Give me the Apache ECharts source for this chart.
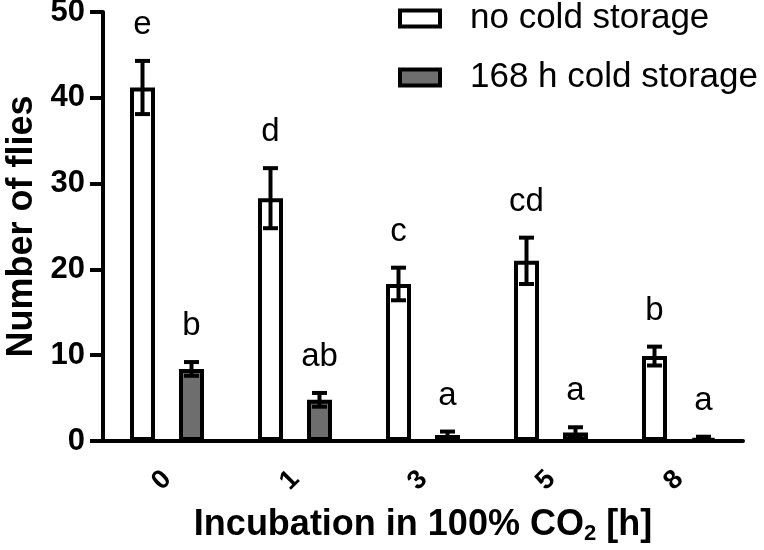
<!DOCTYPE html>
<html>
<head>
<meta charset="utf-8">
<script src="https://cdn.jsdelivr.net/npm/echarts@6/dist/echarts.min.js"></script>
<style>
html,body{margin:0;padding:0;background:#fff;}
#c{width:764px;height:550px;}
</style>
</head>
<body>
<div id="c"></div>
<script>
// ---- data ----
var categories = ['0', '1', '3', '5', '8'];
var seriesNames = ['no cold storage', '168 h cold storage'];
var noColdMean = [41.2, 28.3, 18.3, 21.0, 9.9];
var noColdErr = [3.1, 3.5, 1.9, 2.7, 1.1];
var coldMean = [8.4, 4.8, 0.7, 1.0, 0.3];
var coldErr = [0.8, 0.8, 0.4, 0.6, 0.2];
var noColdLetters = ['e', 'd', 'c', 'cd', 'b'];
var coldLetters = ['b', 'ab', 'a', 'a', 'a'];
var yTicks = [0, 10, 20, 30, 40, 50];

// ---- style ----
var FONT = "'Liberation Sans', Arial, Helvetica, sans-serif";
var BAR_W = 25;
var BAR_GAP = 0.96;
var OFFSET = (BAR_W + BAR_W * BAR_GAP) / 2;
var GRAY = '#6e6e6e';

function errorSeries(name, means, errs, letters, sign) {
  var data = means.map(function (m, i) { return [i, m, errs[i]]; });
  return {
    type: 'custom',
    name: name + ' err',
    z: 10,
    silent: true,
    data: data,
    renderItem: function (params, api) {
      var i = api.value(0), m = api.value(1), e = api.value(2);
      var top = api.coord([i, m + e]);
      var bot = api.coord([i, m - e]);
      var x = top[0] + sign * OFFSET;
      var cw = 7.5;
      var st = { stroke: '#000', lineWidth: 4, fill: null };
      return {
        type: 'group',
        children: [
          { type: 'line', shape: { x1: x, y1: top[1], x2: x, y2: bot[1] }, style: st },
          { type: 'line', shape: { x1: x - cw, y1: top[1], x2: x + cw, y2: top[1] }, style: st },
          { type: 'line', shape: { x1: x - cw, y1: bot[1], x2: x + cw, y2: bot[1] }, style: st },
          { type: 'text', x: x, y: top[1] - 36,
            style: { text: letters[params.dataIndex], fill: '#000', font: '33px ' + FONT,
                     textAlign: 'center', textVerticalAlign: 'middle', align: 'center', verticalAlign: 'middle' } }
        ]
      };
    }
  };
}

var chart = echarts.init(document.getElementById('c'), null, { renderer: 'canvas' });
chart.setOption({
  animation: false,
  backgroundColor: '#fff',
  textStyle: { fontFamily: FONT },
  grid: { left: 103, right: 21, top: 12, bottom: 109, containLabel: false, outerBoundsMode: 'none' },
  legend: {
    orient: 'vertical',
    left: 398,
    top: 1,
    padding: 0,
    icon: 'rect',
    itemWidth: 40,
    itemHeight: 16,
    itemGap: 24,
    data: seriesNames,
    selectedMode: false,
    itemStyle: { borderWidth: 4, borderColor: '#000' },
    textStyle: { fontSize: 35, color: '#000', fontFamily: FONT, lineHeight: 34, padding: [0, 0, 0, 25] }
  },
  xAxis: {
    type: 'category',
    data: categories,
    name: 'Incubation in 100% CO{sub|2} [h]',
    nameLocation: 'middle',
    nameGap: 64,
    nameTextStyle: {
      fontSize: 36, fontWeight: 'bold', color: '#000', fontFamily: FONT, lineHeight: 40,
      rich: { sub: { fontSize: 22, fontWeight: 'bold', color: '#000', fontFamily: FONT, lineHeight: 22, padding: [18, 0, 0, 0] } }
    },
    axisLine: { lineStyle: { color: '#000', width: 4 } },
    axisTick: { alignWithLabel: true, length: 12, lineStyle: { color: '#000', width: 4 } },
    axisLabel: { interval: 0, rotate: 45, margin: 34, fontSize: 27, fontWeight: 'bold', color: '#000', fontFamily: FONT },
    splitLine: { show: false }
  },
  yAxis: {
    type: 'value',
    min: yTicks[0],
    max: yTicks[yTicks.length - 1],
    interval: yTicks[1] - yTicks[0],
    name: 'Number of flies',
    nameLocation: 'middle',
    nameGap: 59,
    nameTextStyle: { fontSize: 36, fontWeight: 'bold', color: '#000', fontFamily: FONT },
    axisLine: { show: true, lineStyle: { color: '#000', width: 4 } },
    axisTick: { show: true, length: 13, lineStyle: { color: '#000', width: 4 } },
    axisLabel: { margin: 18, fontSize: 31, fontWeight: 'bold', color: '#000', fontFamily: FONT },
    splitLine: { show: false }
  },
  series: [
    {
      type: 'bar', name: seriesNames[0], data: noColdMean,
      barWidth: BAR_W, barGap: (BAR_GAP * 100) + '%',
      itemStyle: { color: '#fff', borderColor: '#000', borderWidth: 4 }
    },
    {
      type: 'bar', name: seriesNames[1], data: coldMean,
      barWidth: BAR_W, barGap: (BAR_GAP * 100) + '%',
      itemStyle: { color: GRAY, borderColor: '#000', borderWidth: 4 }
    },
    errorSeries(seriesNames[0], noColdMean, noColdErr, noColdLetters, -1),
    errorSeries(seriesNames[1], coldMean, coldErr, coldLetters, 1)
  ]
});
</script>
</body>
</html>
